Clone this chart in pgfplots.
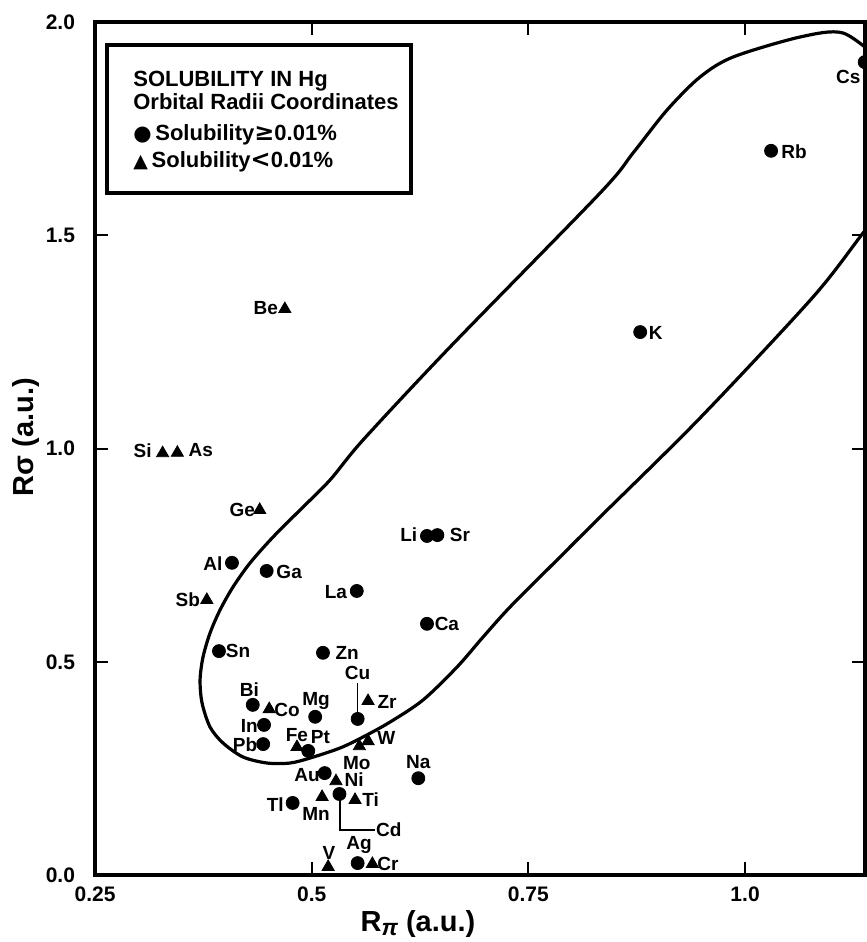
\documentclass[border=0pt]{standalone}
\usepackage{fontspec}
\setmainfont{Liberation Sans}
\newfontfamily\sym{DejaVu Sans}
\usepackage{pgfplots}
\pgfplotsset{compat=1.18}
\tikzset{lab/.style={font=\bfseries\fontsize{9.5}{11}\selectfont, inner sep=0pt}}
\pgfplotstableread{
x y
1.138 1.906
1.030 1.698
0.879 1.273
0.633 0.795
0.645 0.797
0.408 0.732
0.448 0.713
0.552 0.666
0.633 0.589
0.393 0.525
0.513 0.521
0.432 0.399
0.504 0.371
0.445 0.352
0.444 0.307
0.496 0.291
0.553 0.366
0.515 0.239
0.623 0.227
0.532 0.190
0.478 0.169
0.553 0.028
}\circdata
\pgfplotstableread{
x y
0.469 1.327
0.328 0.989
0.345 0.990
0.440 0.856
0.379 0.645
0.451 0.389
0.483 0.300
0.565 0.408
0.565 0.314
0.555 0.302
0.528 0.220
0.512 0.183
0.550 0.176
0.519 0.019
0.570 0.026
}\tridata
\pgfplotstableread{
x y
1.1557 1.9109
1.1130 1.9742
1.0634 1.9648
0.9861 1.9179
0.9480 1.8710
0.9100 1.7937
0.8707 1.6928
0.8327 1.5990
0.6596 1.2380
0.5592 1.0199
0.5211 0.9261
0.4865 0.8558
0.4554 0.7925
0.4288 0.7315
0.4092 0.6753
0.3942 0.6213
0.3827 0.5674
0.3746 0.5111
0.3712 0.4572
0.3735 0.4033
0.3827 0.3470
0.3977 0.3095
0.4208 0.2767
0.4485 0.2626
0.4750 0.2626
0.4981 0.2743
0.5327 0.2978
0.5592 0.3236
0.5904 0.3587
0.6284 0.4103
0.6677 0.4877
0.6977 0.5580
0.7288 0.6284
0.7807 0.7339
0.8327 0.8394
0.9480 1.0715
1.0784 1.3552
1.1361 1.5053
1.1673 1.5826
}\curvedata
\begin{document}
\begin{tikzpicture}
\begin{axis}[
  scale only axis, width=385pt, height=426.5pt,
  xmin=0.25, xmax=1.1384, ymin=0, ymax=2.0,
  axis line style={line width=2pt},
  tick align=inside, major tick length=6.5pt,
  major tick style={line width=1pt, black},
  xtick={0.25,0.5,0.75,1.0}, xticklabels={0.25,0.5,0.75,1.0},
  ytick={0,0.5,1,1.5,2}, yticklabels={0.0,0.5,1.0,1.5,2.0},
  ticklabel style={font=\bfseries\fontsize{10.5}{12}\selectfont},
  xticklabel style={yshift=-2.5pt},
  yticklabel style={xshift=-6.5pt},
  xlabel={R\raisebox{-0.3ex}{\fontsize{11.5}{11}\selectfont\itshape π} (a.u.)},
  ylabel={Rσ (a.u.)},
  label style={font=\bfseries\fontsize{14.5}{16}\selectfont},
  xlabel style={at={(axis description cs:0.4195,-0.066)}, anchor=base},
  ylabel style={at={(axis description cs:-0.0805,0.5135)}, anchor=base},
  clip marker paths=true,
]
\addplot[smooth, line width=1.6pt, black, no markers] table {\curvedata};
\addplot[only marks, mark=*, mark size=3.25pt, black] table {\circdata};
\addplot[only marks, mark=triangle*, mark size=3.5pt, black] table {\tridata};

\node[lab] at (axis cs:1.119,1.871) {Cs};
\node[lab] at (axis cs:1.0565,1.695) {Rb};
\node[lab] at (axis cs:0.897,1.271) {K};
\node[lab] at (axis cs:0.447,1.329) {Be};
\node[lab] at (axis cs:0.305,0.994) {Si};
\node[lab] at (axis cs:0.372,0.996) {As};
\node[lab] at (axis cs:0.420,0.856) {Ge};
\node[lab] at (axis cs:0.386,0.731) {Al};
\node[lab] at (axis cs:0.474,0.710) {Ga};
\node[lab] at (axis cs:0.357,0.645) {Sb};
\node[lab] at (axis cs:0.528,0.664) {La};
\node[lab] at (axis cs:0.612,0.797) {Li};
\node[lab] at (axis cs:0.671,0.797) {Sr};
\node[lab] at (axis cs:0.656,0.589) {Ca};
\node[lab] at (axis cs:0.415,0.525) {Sn};
\node[lab] at (axis cs:0.541,0.520) {Zn};
\node[lab] at (axis cs:0.428,0.434) {Bi};
\node[lab] at (axis cs:0.4715,0.387) {Co};
\node[lab] at (axis cs:0.505,0.408) {Mg};
\node[lab] at (axis cs:0.428,0.349) {In};
\node[lab] at (axis cs:0.423,0.305) {Pb};
\node[lab] at (axis cs:0.483,0.328) {Fe};
\node[lab] at (axis cs:0.510,0.324) {Pt};
\node[lab] at (axis cs:0.553,0.474) {Cu};
\node[lab] at (axis cs:0.587,0.406) {Zr};
\node[lab] at (axis cs:0.586,0.321) {W};
\node[lab] at (axis cs:0.552,0.263) {Mo};
\node[lab] at (axis cs:0.4946,0.234) {Au};
\node[lab] at (axis cs:0.549,0.223) {Ni};
\node[lab] at (axis cs:0.623,0.265) {Na};
\node[lab] at (axis cs:0.505,0.143) {Mn};
\node[lab] at (axis cs:0.458,0.166) {Tl};
\node[lab] at (axis cs:0.568,0.176) {Ti};
\node[lab] at (axis cs:0.589,0.106) {Cd};
\node[lab] at (axis cs:0.5546,0.070) {Ag};
\node[lab] at (axis cs:0.520,0.052) {V};
\node[lab] at (axis cs:0.588,0.026) {Cr};

\draw[line width=0.6pt] (axis cs:0.553,0.450) -- (axis cs:0.553,0.382);
\draw[line width=0.6pt] (axis cs:0.5327,0.19) -- (axis cs:0.5327,0.1055) -- (axis cs:0.573,0.1055);

\draw[line width=2.2pt, fill=white] (axis cs:0.2638,1.946) rectangle (axis cs:0.6146,1.599);
\node[anchor=base west, inner sep=0pt, font=\bfseries\fontsize{11}{13}\selectfont] at (axis cs:0.2938,1.848) {SOLUBILITY IN Hg};
\node[anchor=base west, inner sep=0pt, font=\bfseries\fontsize{11}{13}\selectfont] at (axis cs:0.2938,1.796) {Orbital Radii Coordinates};
\node[anchor=base west, inner sep=0pt, font=\bfseries\fontsize{11}{13}\selectfont] at (axis cs:0.2938,1.723) {{\sym\fontsize{10.5}{12}\selectfont ●}\,Solubility{\sym\fontsize{12}{12}\selectfont ≥}0.01\%};
\node[anchor=base west, inner sep=0pt, font=\bfseries\fontsize{11}{13}\selectfont] at (axis cs:0.2938,1.660) {{\sym\fontsize{9.5}{12}\selectfont ▲}\,Solubility{\sym\fontsize{12}{12}\selectfont <}0.01\%};

\coordinate (bl) at (rel axis cs:-0.1234,-0.0785);
\coordinate (tr) at (rel axis cs:1.0013,1.0258);
\end{axis}
\pgfresetboundingbox
\useasboundingbox (bl) rectangle (tr);
\end{tikzpicture}
\end{document}
